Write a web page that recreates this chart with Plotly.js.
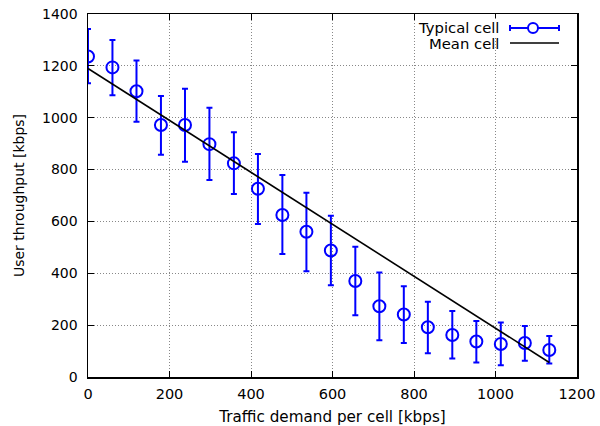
<!DOCTYPE html>
<html>
<head>
<meta charset="utf-8">
<script src="https://cdn.plot.ly/plotly-3.0.1.min.js"></script>
<style>
  html, body { margin: 0; padding: 0; background: #fff; }
  #chart { width: 600px; height: 426px; }
</style>
</head>
<body>
<div id="chart"></div>
<script>
// Traffic demand per cell [kbps]
const demand = [0, 60, 119, 179, 238, 298, 358, 417, 477, 536, 596, 656, 715, 775, 834, 894, 953, 1013, 1072, 1132];
// Typical cell user throughput [kbps] with upper / lower error bounds
const typical = [1236, 1194, 1102, 972, 972, 898, 824, 726, 625, 560, 488, 370, 273, 241, 192, 162, 137, 127, 131, 104];
const upper   = [1342, 1300, 1221, 1084, 1112, 1038, 944, 860, 779, 711, 622, 502, 403, 350, 290, 255, 216, 210, 197, 158];
const lower   = [1133, 1087, 984, 857, 830, 760, 706, 590, 474, 408, 354, 238, 142, 131, 92, 71, 56, 45, 63, 52];
// Mean cell throughput line
const meanX = [0, 1132];
const meanY = [1190, 56];

const xTicks = [0, 200, 400, 600, 800, 1000, 1200];
const yTicks = [0, 200, 400, 600, 800, 1000, 1200, 1400];

const blue = '#0000ff';
const font = 'DejaVu Sans, Verdana, sans-serif';

const errPlus = upper.map((u, i) => u - typical[i]);
const errMinus = lower.map((l, i) => typical[i] - l);

const traces = [
  {
    x: demand, y: typical, type: 'scatter', mode: 'markers',
    name: 'Typical cell',
    marker: { symbol: 'circle-open', size: 12, color: blue, line: { width: 2, color: blue } },
    error_y: { type: 'data', symmetric: false, array: errPlus, arrayminus: errMinus,
               color: blue, thickness: 2, width: 3 },
    hoverinfo: 'x+y'
  },
  {
    x: meanX, y: meanY, type: 'scatter', mode: 'lines',
    name: 'Mean cell',
    line: { color: '#000', width: 1.6 },
    hoverinfo: 'x+y'
  }
];

// Plot-area geometry in pixels, used to place the hand-drawn key
const L = 88, T = 14, W = 489, H = 363;
const fx = (p) => (p - L) / W;
const fy = (p) => 1 - (p - T) / H;
const row1 = 28, row2 = 43, keyText = 500, s0 = 510, s1 = 559, cx = 533;

const layout = {
  width: 600, height: 426,
  margin: { l: L, r: 600 - L - W, t: T, b: 426 - T - H },
  paper_bgcolor: '#fff', plot_bgcolor: '#fff',
  showlegend: false,
  font: { family: font, size: 14, color: '#000' },
  xaxis: {
    range: [0, 1200], tickvals: xTicks, ticks: 'inside', ticklen: 6, tickcolor: '#000',
    showline: true, linecolor: '#000', linewidth: 1.5, mirror: 'ticks',
    showgrid: true, gridcolor: '#888', griddash: '1px,2px', gridwidth: 1,
    zeroline: false, tickfont: { family: font, size: 14.5 }, ticklabelstandoff: 3,
    title: { text: 'Traffic demand per cell [kbps]', font: { family: font, size: 15.2 }, standoff: 12 }
  },
  yaxis: {
    range: [0, 1400], tickvals: yTicks, ticks: 'inside', ticklen: 6, tickcolor: '#000',
    showline: true, linecolor: '#000', linewidth: 1.5, mirror: 'ticks',
    showgrid: true, gridcolor: '#888', griddash: '1px,2px', gridwidth: 1,
    zeroline: false, tickfont: { family: font, size: 14 }, ticklabelstandoff: 6,
    title: { text: 'User throughput [kbps]', font: { family: font, size: 14 }, standoff: 14 }
  },
  annotations: [
    { xref: 'paper', yref: 'paper', x: fx(keyText), y: fy(row1),
      text: 'Typical cell', showarrow: false, xanchor: 'right', yanchor: 'middle',
      font: { family: font, size: 14.8, color: '#000' }, bgcolor: '#fff', borderpad: 0 },
    { xref: 'paper', yref: 'paper', x: fx(keyText), y: fy(row2),
      text: 'Mean cell', showarrow: false, xanchor: 'right', yanchor: 'middle',
      font: { family: font, size: 14.8, color: '#000' }, borderpad: 0 }
  ],
  shapes: [
    // key sample: error-bar line with caps and open circle
    { type: 'line', xref: 'paper', yref: 'paper', x0: fx(s0), x1: fx(s1),
      y0: fy(row1), y1: fy(row1), line: { color: blue, width: 2 } },
    { type: 'line', xref: 'paper', yref: 'paper', x0: fx(s0), x1: fx(s0),
      y0: fy(row1 - 3), y1: fy(row1 + 3), line: { color: blue, width: 2 } },
    { type: 'line', xref: 'paper', yref: 'paper', x0: fx(s1), x1: fx(s1),
      y0: fy(row1 - 3), y1: fy(row1 + 3), line: { color: blue, width: 2 } },
    { type: 'circle', xref: 'paper', yref: 'paper', fillcolor: '#fff',
      x0: fx(cx - 5), x1: fx(cx + 5),
      y0: fy(row1 - 5), y1: fy(row1 + 5), line: { color: blue, width: 2 } },
    // key sample: mean line
    { type: 'line', xref: 'paper', yref: 'paper', x0: fx(s0), x1: fx(s1),
      y0: fy(row2), y1: fy(row2), line: { color: '#000', width: 1.6 } }
  ]
};

Plotly.newPlot('chart', traces, layout, { displayModeBar: false, staticPlot: true });
</script>
</body>
</html>
